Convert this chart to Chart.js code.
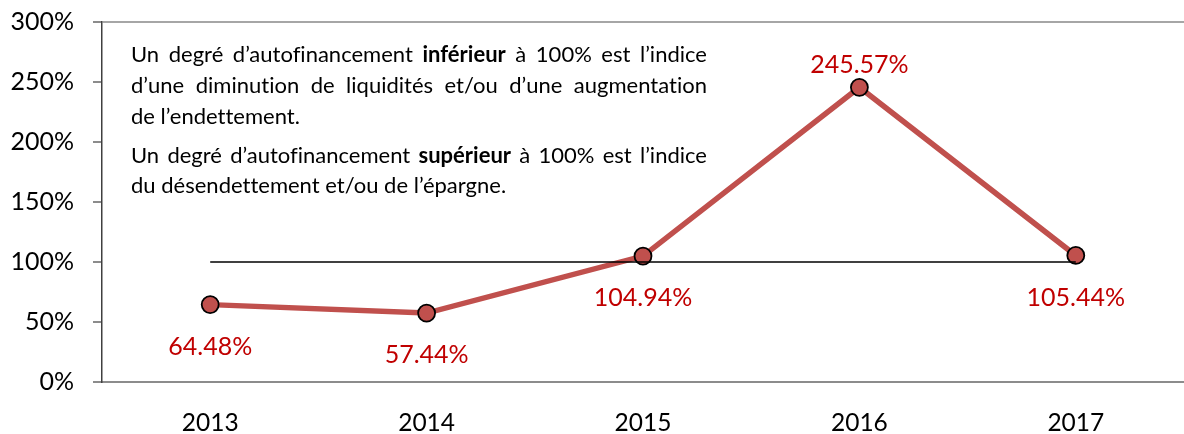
<!DOCTYPE html>
<html>
<head>
<meta charset="utf-8">
<script src="https://cdn.jsdelivr.net/npm/chart.js@4.4.1/dist/chart.umd.min.js"></script>
<style>
  html, body { margin: 0; padding: 0; background: #fff; overflow: hidden; }
  #wrap { width: 1184px; height: 434px; position: relative; }
</style>
</head>
<body>
<div id="wrap"><canvas id="myChart"></canvas></div>
<script>
// values
const years = ['2013', '2014', '2015', '2016', '2017'];
const ratio = [64.48, 57.44, 104.94, 245.57, 105.44];
const threshold = [100, 100, 100, 100, 100];
const yTicks = [0, 50, 100, 150, 200, 250, 300];
const labelAbove = [false, false, false, true, false];

const noteLines = [
  ['Un degré d’autofinancement **inférieur** à 100% est l’indice', true],
  ['d’une diminution de liquidités et/ou d’une augmentation', true],
  ['de l’endettement.', false],
  ['Un degré d’autofinancement **supérieur** à 100% est l’indice', true],
  ['du désendettement et/ou de l’épargne.', false]
];
// baselines of the note lines
const noteY = [62, 93, 124, 163, 193];

const FONT = 'Lato, "Open Sans", sans-serif';

// red value labels under/over each point
const valueLabels = {
  id: 'valueLabels',
  afterDatasetsDraw(chart) {
    const ctx = chart.ctx;
    const meta = chart.getDatasetMeta(0);
    ctx.save();
    ctx.font = '25px ' + FONT;
    ctx.fillStyle = '#C00000';
    ctx.textAlign = 'center';
    ctx.textBaseline = 'middle';
    meta.data.forEach((pt, i) => {
      const dy = labelAbove[i] ? -22 : 42;
      ctx.fillText(ratio[i].toFixed(2) + '%', pt.x, pt.y + dy);
    });
    ctx.restore();
  }
};

// the explanatory text block, justified like the original
const noteBox = {
  id: 'noteBox',
  afterDraw(chart) {
    const ctx = chart.ctx;
    const left = chart.chartArea.left + 29;
    const width = 576;
    const size = 22;
    ctx.save();
    ctx.fillStyle = '#000';
    ctx.textBaseline = 'alphabetic';
    ctx.textAlign = 'left';
    if ('letterSpacing' in ctx) ctx.letterSpacing = '0.01px'; // no tt / ti ligatures
    noteLines.forEach(([txt, justify], li) => {
      const words = txt.split(' ').map(w => {
        const bold = w.startsWith('**');
        return { t: w.replace(/\*\*/g, ''), bold: bold };
      });
      let total = 0;
      words.forEach(w => {
        ctx.font = (w.bold ? 'bold ' : '') + size + 'px ' + FONT;
        w.w = ctx.measureText(w.t).width;
        total += w.w;
      });
      ctx.font = size + 'px ' + FONT;
      let gap = ctx.measureText(' ').width;
      if (justify) gap = (width - total) / (words.length - 1);
      let x = left;
      words.forEach(w => {
        ctx.font = (w.bold ? 'bold ' : '') + size + 'px ' + FONT;
        ctx.fillText(w.t, x, noteY[li]);
        x += w.w + gap;
      });
    });
    ctx.restore();
  }
};

const ctx = document.getElementById('myChart').getContext('2d');
const myChart = new Chart(ctx, {
  type: 'line',
  data: {
    labels: years,
    datasets: [{
      label: 'Degré d’autofinancement',
      data: ratio,
      borderColor: '#C0504D',
      borderWidth: 5.5,
      backgroundColor: '#C0504D',
      pointBackgroundColor: '#C0504D',
      pointBorderColor: '#000',
      pointBorderWidth: 1.8,
      pointRadius: 8.5,
      tension: 0,
      order: 1
    }, {
      label: '100%',
      data: threshold,
      borderColor: '#000',
      borderWidth: 1.5,
      pointRadius: 0,
      tension: 0,
      order: 0
    }]
  },
  options: {
    responsive: true,
    maintainAspectRatio: false,
    animation: false,
    layout: { autoPadding: false, padding: { top: 22, right: 0, bottom: 0, left: 0 } },
    plugins: {
      legend: { display: false },
      tooltip: { enabled: false }
    },
    scales: {
      x: {
        offset: true,
        grid: { display: false, drawTicks: false },
        border: { color: '#8c8c8c', width: 2 },
        ticks: { color: '#000', font: { family: FONT, size: 24.5 }, padding: 26 },
        afterFit(scale) {
          scale.height = 52;
          scale.paddingLeft = 0;
          scale.paddingRight = 0;
        }
      },
      y: {
        min: 0,
        max: 300,
        afterBuildTicks(scale) { scale.ticks = yTicks.map(v => ({ value: v })); },
        grid: {
          color: c => (c.tick && c.tick.value === 300 ? '#a6a6a6' : 'rgba(0,0,0,0)'),
          lineWidth: 2,
          tickColor: '#8c8c8c',
          tickLength: 9,
          drawTicks: true
        },
        border: { color: '#404040', width: 1.5 },
        ticks: {
          color: '#000',
          font: { family: FONT, size: 25 },
          padding: 19,
          callback: v => v + '%'
        },
        afterFit(scale) {
          scale.width = 102;
          scale.paddingTop = 0;
          scale.paddingBottom = 0;
        }
      }
    }
  },
  plugins: [valueLabels, noteBox]
});
</script>
</body>
</html>
